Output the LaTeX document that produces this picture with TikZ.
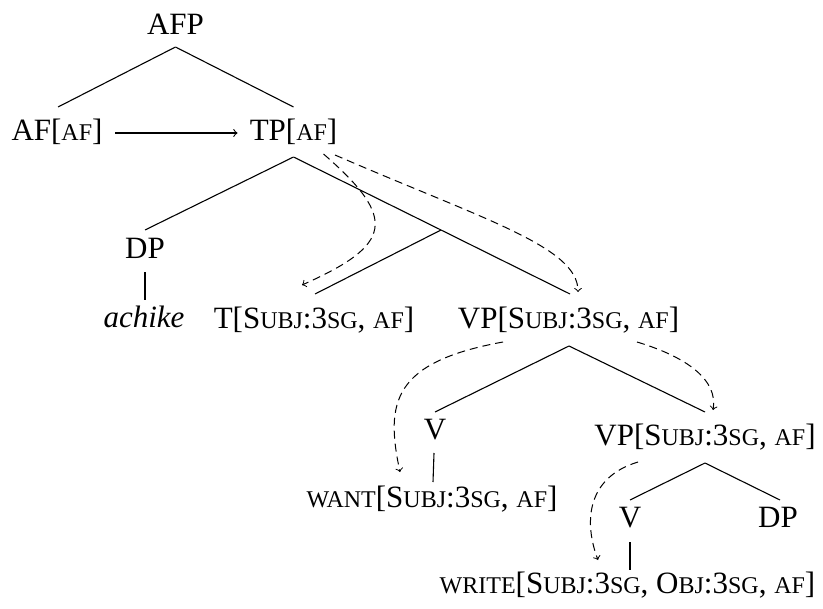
\documentclass[tikz,border=0pt]{standalone}
\usepackage{fontspec}
\setmainfont{Liberation Serif}
\usetikzlibrary{calc}
% small capitals set as reduced capitals
\newcommand\fakesc[1]{{\fontsize{12pt}{14pt}\selectfont #1}}
\begin{document}
\begin{tikzpicture}[x=0.5pt,y=-0.5pt,
  lbl/.style={anchor=base,inner sep=0pt,font=\fontsize{15.5pt}{18pt}\selectfont},
  edge/.style={line width=0.55pt},
  link/.style={line width=0.5pt,dash pattern=on 4pt off 2.5pt,->},
]
\useasboundingbox (0,0) rectangle (823,609);

% tree labels
\node[lbl] (AFP)   at (175.5,35) {AFP};
\node[lbl] (AF)    at (57,141)   {AF[\fakesc{AF}]};
\node[lbl] (TP)    at (293.5,141){TP[\fakesc{AF}]};
\node[lbl] (DP)    at (145,258)  {DP};
\node[lbl] (ach)   at (144,327)  {\textit{achike}};
\node[lbl] (T)     at (314,328)  {T[S\fakesc{UBJ}:3\fakesc{SG}, \fakesc{AF}]};
\node[lbl] (VP)    at (568.5,328){VP[S\fakesc{UBJ}:3\fakesc{SG}, \fakesc{AF}]};
\node[lbl] (V)     at (435,439)  {V};
\node[lbl] (VPb)   at (705,445)  {VP[S\fakesc{UBJ}:3\fakesc{SG}, \fakesc{AF}]};
\node[lbl] (want)  at (432,507)  {\fakesc{WANT}[S\fakesc{UBJ}:3\fakesc{SG}, \fakesc{AF}]};
\node[lbl] (Vb)    at (630,527)  {V};
\node[lbl] (DPb)   at (778,527)  {DP};
\node[lbl] (write) at (627.5,593){\fakesc{WRITE}[S\fakesc{UBJ}:3\fakesc{SG}, O\fakesc{BJ}:3\fakesc{SG}, \fakesc{AF}]};
% branching point of the empty T-bar node
\coordinate (Tbar) at (441,230);

% branches
\draw[edge] ($(AFP.base)+(0,12)$) -- ($(AF.base)+(1,-34)$);
\draw[edge] ($(AFP.base)+(0,12)$) -- ($(TP.base)+(0,-34)$);
\draw[edge] ($(TP.base)+(0,16)$) -- ($(DP.base)+(0,-28)$);
\draw[edge] ($(TP.base)+(0,16)$) -- (Tbar) -- ($(VP.base)+(1.5,-34)$);
\draw[edge] (Tbar) -- ($(T.base)+(1,-34)$);
\draw[edge] ($(DP.base)+(0,14)$) -- ($(ach.base)+(1,-27)$);
\draw[edge] ($(VP.base)+(0.5,18)$) -- ($(V.base)+(0,-27)$);
\draw[edge] ($(VP.base)+(0.5,18)$) -- ($(VPb.base)+(0,-33)$);
\draw[edge] ($(V.base)+(-1,14)$) -- ($(want.base)+(1,-25)$);
\draw[edge] ($(VPb.base)+(0,18)$) -- ($(Vb.base)+(0,-27)$);
\draw[edge] ($(VPb.base)+(0,18)$) -- ($(DPb.base)+(2,-27)$);
\draw[edge] ($(Vb.base)+(0,15)$) -- ($(write.base)+(2.5,-23)$);

% agreement arrow
\draw[edge,->] ($(AF.base)+(58,-8)$) -- ($(TP.base)+(-56,-8)$);

% feature percolation
\draw[link] ($(TP.base)+(30,13)$) .. controls +(75,65) and +(90,-40) .. ($(T.base)+(-12,-43)$);
\draw[link] ($(TP.base)+(41.5,14)$) .. controls +(150,65) and +(0,-45) .. ($(VP.base)+(9.5,-36)$);
\draw[link] ($(VP.base)+(-65.5,14)$) .. controls +(-110,20) and +(-15,-70) .. ($(want.base)+(-32,-35)$);
\draw[link] ($(VP.base)+(68.5,14)$) .. controls +(50,15) and +(5,-30) .. ($(VPb.base)+(8,-35)$);
\draw[link] ($(VPb.base)+(-67,17)$) .. controls +(-50,15) and +(-15,-40) .. ($(write.base)+(-29.5,-33)$);
\end{tikzpicture}
\end{document}
